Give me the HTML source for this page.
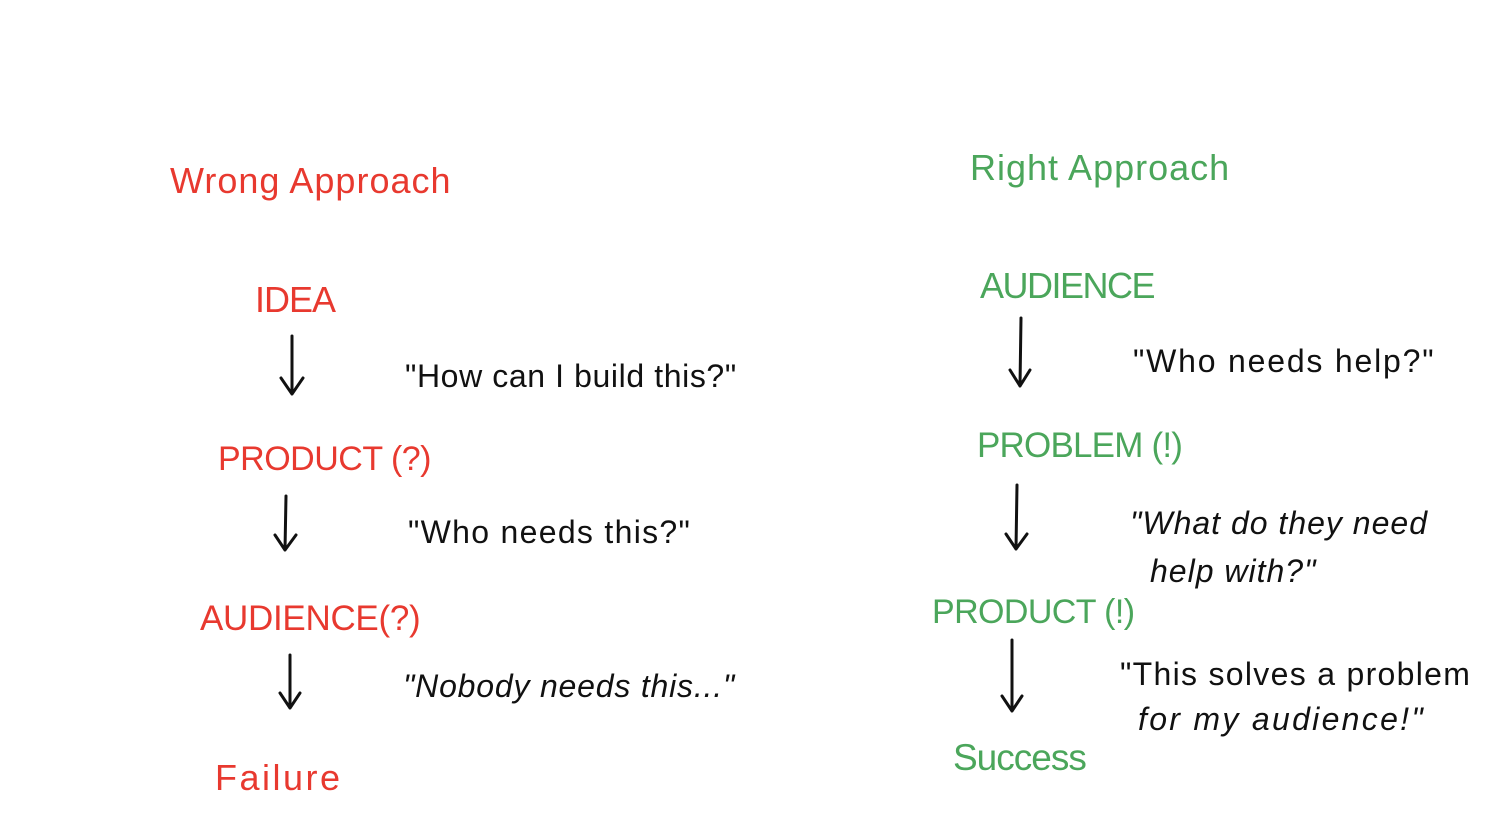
<!DOCTYPE html>
<html><head><meta charset="utf-8"><style>
body{margin:0;width:1508px;height:830px;background:#fff;position:relative;overflow:hidden;font-family:"Liberation Sans",sans-serif;}
.t{position:absolute;white-space:nowrap;line-height:1;}
.r{color:#e8392f;}
.g{color:#4ba65b;}
.k{color:#111;}
svg{position:absolute;left:0;top:0;}
</style></head><body>
<div class="t r" style="left:170px;top:163px;font-size:36px;letter-spacing:1px;">Wrong Approach</div>
<div class="t r" style="left:255px;top:282px;font-size:36px;letter-spacing:-1px;">IDEA</div>
<div class="t k" style="left:405px;top:360px;font-size:32px;letter-spacing:0.6px;">"How can I build this?"</div>
<div class="t r" style="left:218px;top:442px;font-size:34px;letter-spacing:-0.5px;">PRODUCT (?)</div>
<div class="t k" style="left:408px;top:516px;font-size:32px;letter-spacing:1.3px;">"Who needs this?"</div>
<div class="t r" style="left:200px;top:601px;font-size:35px;letter-spacing:-0.3px;">AUDIENCE(?)</div>
<div class="t k" style="left:403px;top:670px;font-size:32px;font-style:italic;letter-spacing:0.8px;">"Nobody needs this..."</div>
<div class="t r" style="left:215px;top:760px;font-size:36px;letter-spacing:2.5px;">Failure</div>

<div class="t g" style="left:970px;top:150px;font-size:36px;letter-spacing:1px;">Right Approach</div>
<div class="t g" style="left:980px;top:268px;font-size:36px;letter-spacing:-1.5px;">AUDIENCE</div>
<div class="t k" style="left:1133px;top:345px;font-size:32px;letter-spacing:1.8px;">"Who needs help?"</div>
<div class="t g" style="left:977px;top:428px;font-size:35px;letter-spacing:-0.8px;">PROBLEM (!)</div>
<div class="t k" style="left:1130px;top:507px;font-size:32px;font-style:italic;letter-spacing:1px;">"What do they need</div>
<div class="t k" style="left:1150px;top:555px;font-size:32px;font-style:italic;letter-spacing:1px;">help with?"</div>
<div class="t g" style="left:932px;top:595px;font-size:34px;letter-spacing:-0.6px;">PRODUCT (!)</div>
<div class="t k" style="left:1120px;top:658px;font-size:32px;letter-spacing:1.3px;">"This solves a problem</div>
<div class="t k" style="left:1138px;top:703px;font-size:32px;font-style:italic;letter-spacing:2.3px;">for my audience!"</div>
<div class="t g" style="left:953px;top:739px;font-size:37px;letter-spacing:-1px;">Success</div>

<svg width="1508" height="830" fill="none" stroke="#111" stroke-width="3" stroke-linecap="round" stroke-linejoin="round">
<path d="M292 336 L292 394 M281 378 L292 394 L303 378"/>
<path d="M286 496 L285 550 M275 535 L285 550 L296 535"/>
<path d="M290 655 L290 708 M280 693 L290 708 L300 693"/>
<path d="M1021 318 L1020 386 M1010 370 L1020 386 L1030 370"/>
<path d="M1017 485 L1016 549 M1006 534 L1016 549 L1027 534"/>
<path d="M1012 640 L1012 711 M1002 696 L1012 711 L1022 696"/>
</svg>
</body></html>
